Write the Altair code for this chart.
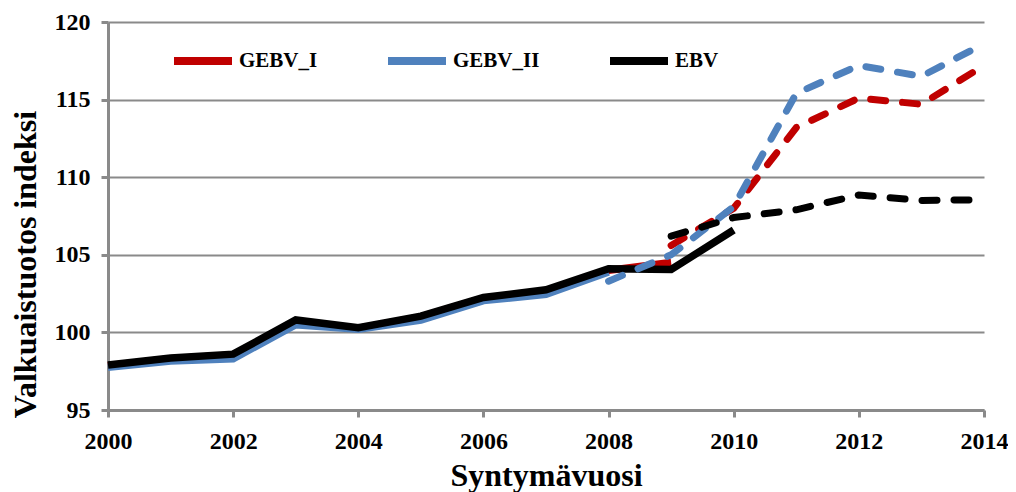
import altair as alt
import pandas as pd

series_names = ["GEBV_I", "GEBV_II", "EBV"]
series_colors = ["#C00000", "#4F81BD", "#000000"]

# solid (observed) lines
gebv1_solid_years = [2000, 2001, 2002, 2003, 2004, 2005, 2006, 2007, 2008, 2009]
gebv1_solid = [97.85, 98.3, 98.55, 100.7, 100.25, 101.0, 102.2, 102.65, 104.0, 104.5]
gebv2_solid_years = [2000, 2001, 2002, 2003, 2004, 2005, 2006, 2007, 2008]
gebv2_solid = [97.75, 98.15, 98.3, 100.5, 100.2, 100.8, 102.05, 102.45, 103.9]
ebv_solid_years = [2000, 2001, 2002, 2003, 2004, 2005, 2006, 2007, 2008, 2009, 2010]
ebv_solid = [97.9, 98.35, 98.6, 100.8, 100.3, 101.05, 102.25, 102.75, 104.1, 104.05, 106.6]

# dashed (predicted) lines
gebv1_dash_years = [2009, 2010, 2011, 2012, 2013, 2014]
gebv1_dash = [105.6, 108.0, 113.2, 115.1, 114.7, 117.2]
gebv2_dash_years = [2008, 2009, 2010, 2011, 2012, 2013, 2014]
gebv2_dash = [103.3, 105.0, 108.1, 115.4, 117.2, 116.5, 118.6]
ebv_dash_years = [2009, 2010, 2011, 2012, 2013, 2014]
ebv_dash = [106.2, 107.4, 107.9, 108.85, 108.5, 108.55]

x_ticks = [2000, 2002, 2004, 2006, 2008, 2010, 2012, 2014]
y_ticks = [95, 100, 105, 110, 115, 120]


def frame(parts):
    rows = []
    for name, yrs, vals in parts:
        for yr, v in zip(yrs, vals):
            rows.append({"year": yr, "value": v, "series": name})
    return pd.DataFrame(rows)


solid_df = frame([
    ("GEBV_I", gebv1_solid_years, gebv1_solid),
    ("GEBV_II", gebv2_solid_years, gebv2_solid),
    ("EBV", ebv_solid_years, ebv_solid),
])
dash_df = frame([
    ("GEBV_I", gebv1_dash_years, gebv1_dash),
    ("GEBV_II", gebv2_dash_years, gebv2_dash),
    ("EBV", ebv_dash_years, ebv_dash),
])

FONT = "Times New Roman, Liberation Serif, Tinos, DejaVu Serif, serif"
GREY = "#8a8a8a"
W, H = 876, 388

x_enc = alt.X(
    "year:Q",
    scale=alt.Scale(domain=[2000, 2014], nice=False, zero=False),
    axis=alt.Axis(
        values=x_ticks, format="d", title="Syntymävuosi", grid=False,
        labelFlush=False, labelOverlap=False,
        labelPadding=12, tickSize=7, tickWidth=3, tickColor=GREY,
        domainColor=GREY, domainWidth=3,
        titleBaseline="alphabetic", titleY=75, titleX=W / 2, titleAlign="center",
    ),
)
y_enc = alt.Y(
    "value:Q",
    scale=alt.Scale(domain=[95, 120], nice=False, zero=False),
    axis=alt.Axis(
        values=y_ticks, format="d", title="Valkuaistuotos indeksi", grid=True,
        gridColor=GREY, gridWidth=2,
        labelPadding=11, tickSize=7, tickWidth=3, tickColor=GREY,
        domainColor=GREY, domainWidth=3,
        titleAngle=270, titleBaseline="alphabetic", titleAlign="center",
        titleX=-73, titleY=242,
    ),
)
color_enc = alt.Color(
    "series:N",
    scale=alt.Scale(domain=series_names, range=series_colors),
    legend=alt.Legend(
        title=None, orient="none", legendX=62, legendY=6, direction="horizontal",
        columnPadding=54, padding=0, labelOffset=3,
        symbolType="stroke", symbolSize=3364, symbolStrokeWidth=8,
    ),
    sort=series_names,
)

solid = alt.Chart(solid_df).mark_line(strokeWidth=7.5).encode(
    x=x_enc, y=y_enc, color=color_enc
)
dashed = alt.Chart(dash_df).mark_line(
    strokeWidth=7, strokeDash=[15, 17], strokeCap="round"
).encode(x=x_enc, y=y_enc, color=color_enc)

chart = alt.layer(solid, dashed).properties(
    width=W, height=H,
    autosize=alt.AutoSizeParams(type="none"),
    padding={"left": 100, "top": 14, "right": 24, "bottom": 82},
).configure(
    background="white", font=FONT
).configure_view(
    stroke=None
).configure_axis(
    labelFont=FONT, labelFontSize=24, labelFontWeight="bold", labelColor="black",
    titleFont=FONT, titleFontSize=32, titleFontWeight="bold", titleColor="black",
).configure_legend(
    labelFont=FONT, labelFontSize=21, labelFontWeight="bold", labelColor="black",
)

chart.save("out.html", embed_options={"renderer": "svg", "actions": False})
